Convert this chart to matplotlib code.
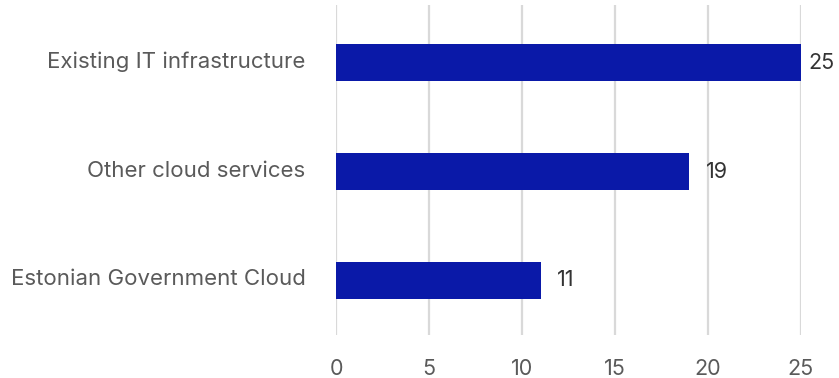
import matplotlib
matplotlib.use("Agg")
import matplotlib.pyplot as plt
from matplotlib.transforms import ScaledTranslation

# Hosting options and number of responses
categories = ["Existing IT infrastructure", "Other cloud services", "Estonian Government Cloud"]
values = [25, 19, 11]
x_ticks = [0, 5, 10, 15, 20, 25]

BAR_COLOR = "#0a19a8"
GRID_COLOR = "#d9d9d9"
LABEL_COLOR = "#5a5a5a"
VALUE_COLOR = "#333333"

plt.rcParams["font.family"] = ["Inter", "DejaVu Sans"]

fig = plt.figure(figsize=(8.39, 3.78), dpi=100)
ax = fig.add_axes([0.4005, 0.114, 0.5542, 0.873])

ypos = list(range(len(categories)))
ax.barh(ypos, values, height=0.345, color=BAR_COLOR, zorder=3)

ax.set_xlim(0, 25)
ax.set_ylim(len(categories) - 0.5, -0.53)
ax.set_xticks(x_ticks)
ax.set_yticks(ypos)
ax.set_yticklabels(categories)

for spine in ax.spines.values():
    spine.set_visible(False)
ax.grid(axis="x", color=GRID_COLOR, linewidth=1.6, zorder=0)
ax.grid(axis="y", visible=False)
ax.tick_params(axis="both", length=0)
ax.tick_params(axis="y", pad=22, labelsize=16, labelcolor=LABEL_COLOR)
ax.tick_params(axis="x", pad=17, labelsize=15.5, labelcolor=LABEL_COLOR)

# nudge category labels up a little
lift = ScaledTranslation(0, 3 / 100, fig.dpi_scale_trans)
for lbl in ax.get_yticklabels():
    lbl.set_transform(lbl.get_transform() + lift)

# value labels to the right of each bar; the largest sits closer so it fits
vmax = max(values)
for y, v in zip(ypos, values):
    off = 5 if v == vmax else 12
    ax.annotate(str(v), xy=(v, y), xytext=(off, 0), textcoords="offset points",
                ha="left", va="center", fontsize=15.5, color=VALUE_COLOR,
                annotation_clip=False)

fig.savefig("out.png", dpi=100)
